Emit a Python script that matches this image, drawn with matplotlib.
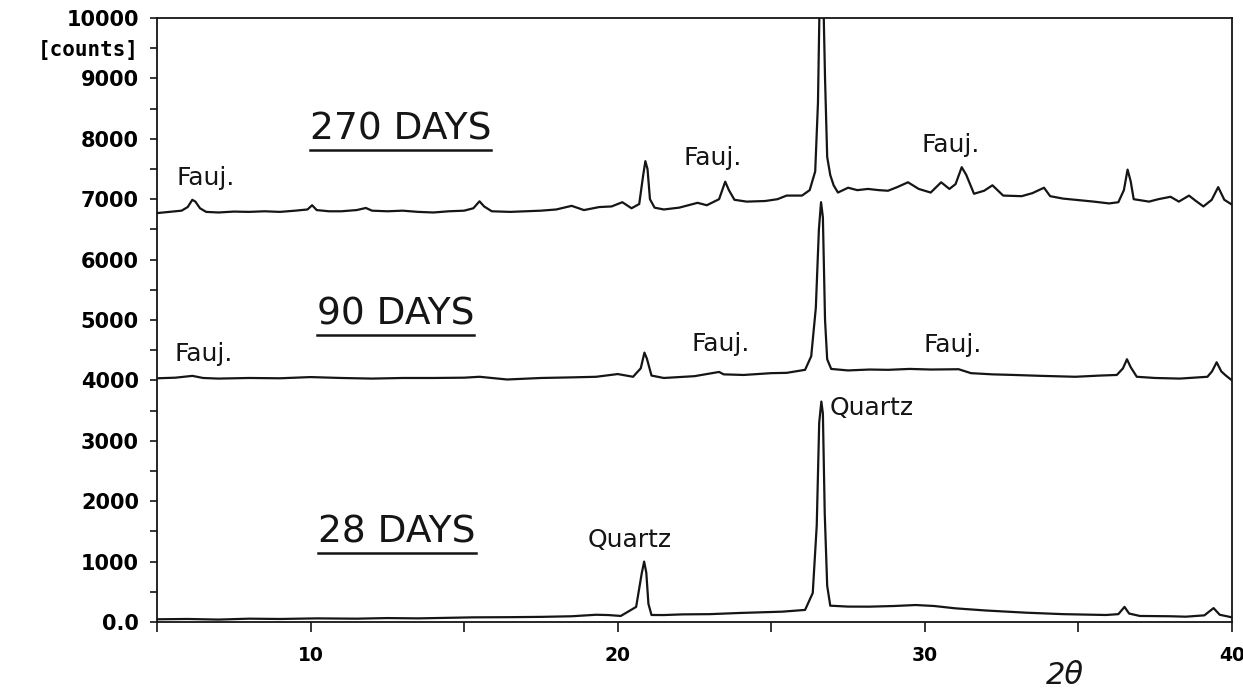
import numpy as np
import matplotlib
matplotlib.use('Agg')
import matplotlib.pyplot as plt
from matplotlib.ticker import FixedLocator

plt.rcParams['font.family'] = ['DejaVu Sans']

# 270 days trace (2theta, counts)
tt_270 = [5.0, 5.4, 5.8, 6.0, 6.15, 6.25, 6.4, 6.6, 7.0, 7.5, 8.0, 8.5, 9.0, 9.5, 9.9, 10.05,
          10.2, 10.6, 11.0, 11.5, 11.8, 12.0, 12.5, 13.0, 13.5, 14.0, 14.5, 15.0, 15.3, 15.5,
          15.65, 15.9, 16.5, 17.0, 17.5, 18.0, 18.5, 18.9, 19.4, 19.8, 20.15, 20.45, 20.7, 20.83,
          20.9, 20.97, 21.05, 21.2, 21.5, 22.0, 22.6, 22.9, 23.3, 23.5, 23.62, 23.8, 24.2, 24.8,
          25.2, 25.5, 26.0, 26.25, 26.43, 26.52, 26.58, 26.68, 26.75, 26.82, 26.92, 27.03, 27.17,
          27.5, 27.8, 28.15, 28.5, 28.8, 29.1, 29.45, 29.8, 30.19, 30.53, 30.8, 31.0, 31.2, 31.35,
          31.6, 31.93, 32.2, 32.55, 33.15, 33.5, 33.88, 34.08, 34.5, 34.9, 35.5, 36.0, 36.3, 36.48,
          36.6, 36.7, 36.8, 37.3, 37.6, 38.0, 38.27, 38.6, 38.8, 39.07, 39.34, 39.55, 39.75, 40.0]
counts_270 = [6770, 6790, 6810, 6870, 6990, 6960, 6850, 6790, 6780, 6795, 6790, 6800, 6790, 6810, 6830, 6900,
              6820, 6800, 6800, 6820, 6855, 6810, 6800, 6810, 6790, 6780, 6800, 6810, 6850, 6965,
              6880, 6800, 6790, 6800, 6810, 6830, 6890, 6820, 6870, 6880, 6950, 6850, 6920, 7400,
              7630, 7500, 7000, 6860, 6830, 6860, 6940, 6900, 7000, 7290, 7150, 6990, 6960, 6970,
              7000, 7060, 7060, 7150, 7460, 8600, 10500, 10700, 9000, 7700, 7400, 7230, 7110,
              7190, 7150, 7170, 7150, 7140, 7200, 7280, 7170, 7110, 7280, 7170, 7250, 7530, 7400,
              7090, 7140, 7230, 7060, 7050, 7100, 7190, 7050, 7010, 6990, 6960, 6930, 6950, 7150,
              7490, 7300, 7000, 6960, 7000, 7040, 6960, 7060, 6980, 6880, 6990, 7200, 6990, 6910]

# 90 days trace
tt_90 = [5.0, 5.6, 6.15, 6.5, 7.0, 8.0, 9.0, 10.0, 11.0, 12.0, 13.0, 14.0, 15.0, 15.5, 16.4,
         17.5, 18.5, 19.3, 20.0, 20.5, 20.75, 20.87, 20.95, 21.1, 21.5, 22.5, 23.3, 23.45, 24.1,
         25.0, 25.5, 26.1, 26.3, 26.45, 26.55, 26.62, 26.68, 26.75, 26.82, 26.95, 27.5, 28.2,
         28.8, 29.5, 30.2, 31.1, 31.5, 32.2, 32.9, 33.8, 34.9, 35.7, 36.25, 36.45, 36.58, 36.7,
         36.9, 37.5, 38.3, 39.2, 39.35, 39.5, 39.65, 39.8, 40.0]
counts_90 = [4035, 4045, 4075, 4040, 4030, 4040, 4035, 4055, 4040, 4030, 4040, 4040, 4045, 4060, 4015,
             4040, 4050, 4060, 4105, 4060, 4200, 4460, 4360, 4080, 4040, 4070, 4140, 4100, 4090,
             4120, 4125, 4175, 4400, 5200, 6500, 6950, 6700, 5000, 4350, 4190, 4165, 4180,
             4175, 4190, 4180, 4185, 4120, 4100, 4090, 4075, 4060, 4080, 4090, 4200, 4350, 4220,
             4060, 4040, 4030, 4060, 4150, 4300, 4150, 4080, 4000]

# 28 days trace
tt_28 = [5.0, 6.0, 7.0, 8.0, 9.0, 10.2, 11.5, 12.5, 13.5, 15.3, 16.5, 17.5, 18.5, 19.3, 19.7,
         20.1, 20.6, 20.78, 20.86, 20.93, 21.0, 21.1, 21.5, 22.1, 23.0, 24.0, 25.35, 26.1, 26.35,
         26.48, 26.56, 26.63, 26.68, 26.74, 26.82, 26.92, 27.5, 28.2, 29.0, 29.7, 30.3, 31.0,
         32.0, 33.3, 34.5, 35.9, 36.3, 36.5, 36.65, 37.0, 38.0, 38.5, 39.1, 39.4, 39.6, 40.0]
counts_28 = [45, 50, 40, 55, 50, 60, 55, 65, 60, 77, 80, 85, 95, 120, 115,
             100, 250, 800, 1000, 820, 300, 116, 115, 126, 130, 150, 171, 200, 480,
             1600, 3300, 3650, 3450, 1800, 600, 270, 255, 254, 265, 281, 265, 226,
             190, 154, 130, 116, 130, 250, 140, 100, 95, 88, 110, 230, 120, 77]

# sample labels (text, x, baseline y)
day_labels = ['270 DAYS', '90 DAYS', '28 DAYS']
day_x = [9.98, 10.2, 10.25]
day_y = [7990, 4920, 1310]

phase_labels = ['Fauj.', 'Fauj.', 'Fauj.', 'Fauj.', 'Fauj.', 'Fauj.', 'Quartz', 'Quartz']
phase_x = [5.62, 22.15, 29.9, 5.57, 22.4, 29.95, 19.03, 26.9]
phase_y = [7235, 7566, 7781, 4327, 4490, 4470, 1250, 3420]

ytick_vals = [0, 1000, 2000, 3000, 4000, 5000, 6000, 7000, 8000, 9000, 9500, 10000]
ytick_text = ['0.0', '1000', '2000', '3000', '4000', '5000', '6000', '7000', '8000', '9000',
              '[counts]', '10000']
xtick_vals = [10, 20, 30, 40]

fig = plt.figure(figsize=(12.43, 6.96), dpi=100)
ax = fig.add_axes([157 / 1243, 1 - 622 / 696, 1075 / 1243, 604 / 696])

for tt, cc in [(tt_270, counts_270), (tt_90, counts_90), (tt_28, counts_28)]:
    ax.plot(tt, cc, color='#151515', lw=1.6, solid_joinstyle='round')

ax.set_xlim(5, 40)
ax.set_ylim(0, 10000)

ax.set_xticks(xtick_vals)
ax.set_xticklabels([str(v) for v in xtick_vals], fontsize=13.5, fontweight='bold')
ax.xaxis.set_minor_locator(FixedLocator([5, 15, 25, 35]))
ax.set_yticks(ytick_vals)
ax.set_yticklabels(ytick_text, fontsize=15, fontweight='bold')
ax.yaxis.set_minor_locator(FixedLocator([500, 1500, 2500, 3500, 4500, 5500, 6500, 7500, 8500]))
for lab in ax.get_yticklabels():
    if lab.get_text() == '[counts]':
        lab.set_fontfamily('DejaVu Sans Mono')
        lab.set_fontsize(15)

ax.tick_params(axis='x', which='both', direction='out', length=7, width=1.2, pad=10, color='#151515')
ax.tick_params(axis='y', which='major', direction='out', length=5, width=1.2, pad=8, color='#151515')
ax.tick_params(axis='y', which='minor', direction='out', length=5, width=1.2, color='#151515')
for sp in ax.spines.values():
    sp.set_linewidth(1.3)
    sp.set_color('#151515')

texts = []
for s, x, y in zip(day_labels, day_x, day_y):
    texts.append(ax.text(x, y, s, fontsize=27, color='#151515', va='baseline', ha='left'))

for s, x, y in zip(phase_labels, phase_x, phase_y):
    ax.text(x, y, s, fontsize=18, color='#151515', va='baseline', ha='left')

fig.text(1065 / 1243, 1 - 684 / 696, '2θ', fontsize=22, style='italic', ha='center', va='baseline',
         color='#151515')

# underline the day labels
fig.canvas.draw()
inv = ax.transAxes.inverted()
for t in texts:
    bb = t.get_window_extent()
    x0, y0 = inv.transform((bb.x0, bb.y0))
    x1, _ = inv.transform((bb.x1, bb.y0))
    ax.plot([x0, x1], [y0 - 0.004, y0 - 0.004], transform=ax.transAxes, color='#151515', lw=1.8,
            clip_on=False)

fig.savefig('out.png', dpi=100)
